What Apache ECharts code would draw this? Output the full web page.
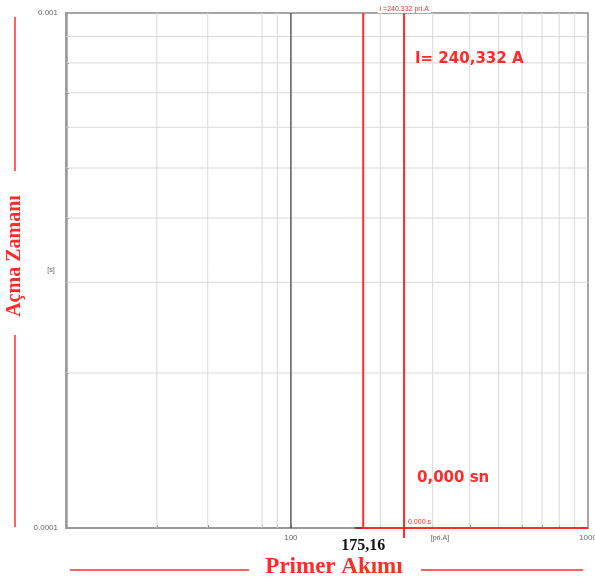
<!DOCTYPE html>
<html>
<head>
<meta charset="utf-8">
<script src="https://cdn.jsdelivr.net/npm/echarts@6/dist/echarts.min.js"></script>
<style>
html,body{margin:0;padding:0;background:#fff;}
#c{width:595px;height:579px;}
</style>
</head>
<body>
<div id="c"></div>
<script>
// ---- data ----
const xMin = 17.5, xMax = 1000;
const yMin = 0.0001, yMax = 0.001;
const xGridValues = [35.4, 52.5, 80, 90, 200, 300, 400, 500, 600, 700, 800, 900];
const xMajorLine = [100];
const yGridValues = [0.0002, 0.0003, 0.0004, 0.0005, 0.0006, 0.0007, 0.0008, 0.0009];
const xTickLabels = [100, 1000];
const yTickLabels = [0.0001, 0.001];
const pickupCurrent = 175.16;
const faultCurrent = 240.332;
const faultTime = 0.000;
const relayCurveX = [175.16, 175.16, 1000];
const relayCurveY = [0.001, 0.0001, 0.0001];
const stubX = [164, 175.16];
const stubY = [0.0001, 0.0001];
const faultLineX = [240.332, 240.332, 240.332];
const faultLineY = [0.001, 0.0001, 0.0000956];

const RED = '#ff2b2b';
const chart = echarts.init(document.getElementById('c'), null, {renderer: 'canvas'});

const zip = (xs, ys) => xs.map((x, i) => [x, ys[i]]);

const gridSeries = [];
xGridValues.forEach(v => gridSeries.push({type: 'line', silent: true, z: 1, symbol: 'none',
  data: [[v, yMin], [v, yMax]], lineStyle: {color: '#dadada', width: 1}}));
yGridValues.forEach(v => gridSeries.push({type: 'line', silent: true, z: 1, symbol: 'none',
  data: [[xMin, v], [xMax, v]], lineStyle: {color: '#dadada', width: 1}}));
xMajorLine.forEach(v => gridSeries.push({type: 'line', silent: true, z: 2, symbol: 'none',
  data: [[v, yMin], [v, yMax]], lineStyle: {color: '#5a5a5a', width: 1.5}}));

const faultData = zip(faultLineX, faultLineY).map((p, i) => {
  const d = {value: p};
  if (i === 0) d.label = {show: true, position: 'top', distance: 0, formatter: 'I =' + faultCurrent.toFixed(3) + ' pri.A', fontSize: 7, color: RED, backgroundColor: '#fff', padding: [1, 2, 0, 2], fontFamily: 'Liberation Sans'};
  if (i === 1) d.label = {show: true, position: 'right', distance: 4, offset: [0, -6], formatter: faultTime.toFixed(3) + ' s', fontSize: 7, color: RED, fontFamily: 'Liberation Sans'};
  return d;
});

chart.setOption({
  animation: false,
  backgroundColor: '#fff',
  grid: {left: 66, top: 13, right: 7, bottom: 51, show: true, borderColor: '#8a8a8a', borderWidth: 1.5, outerBoundsMode: 'none', containLabel: false},
  xAxis: {
    type: 'log', min: xMin, max: xMax, logBase: 10,
    axisLine: {show: true, lineStyle: {color: '#9a9a9a', width: 2}},
    axisTick: {show: true, inside: true, length: 3, customValues: xGridValues.concat(xMajorLine), lineStyle: {color: '#777'}},
    splitLine: {show: false},
    minorSplitLine: {show: false},
    axisLabel: {customValues: xTickLabels, fontSize: 8, color: '#666', margin: 6, fontFamily: 'Liberation Sans', formatter: v => String(v)}
  },
  yAxis: {
    type: 'log', min: yMin, max: yMax, logBase: 10,
    axisLine: {show: true, lineStyle: {color: '#9a9a9a', width: 2.5}},
    axisTick: {show: true, inside: true, length: 3, customValues: yGridValues, lineStyle: {color: '#777'}},
    splitLine: {show: false},
    axisLabel: {customValues: yTickLabels, fontSize: 8, color: '#666', margin: 8, fontFamily: 'Liberation Sans', formatter: v => String(v)}
  },
  series: gridSeries.concat([
    {type: 'line', data: zip(stubX, stubY), z: 3, symbol: 'none', lineStyle: {color: '#9b2f2f', width: 2}},
    {type: 'line', data: zip(relayCurveX, relayCurveY), z: 4, symbol: 'none', lineStyle: {color: RED, width: 2}},
    {type: 'line', data: faultData, z: 5, clip: false, symbol: 'circle', symbolSize: 0, showSymbol: true,
     itemStyle: {color: RED}, lineStyle: {color: RED, width: 2}}
  ])
});

const pPick = chart.convertToPixel({gridIndex: 0}, [pickupCurrent, yMin]);
chart.setOption({
  graphic: [
    {type: 'text', z: 50, left: 415, top: 52, style: {text: 'I= ' + faultCurrent.toFixed(3).replace('.', ',') + ' A', font: 'bold 15px "DejaVu Sans"', fill: RED}},
    {type: 'text', z: 50, left: 417, top: 471, style: {text: faultTime.toFixed(3).replace('.', ',') + ' sn', font: 'bold 15px "DejaVu Sans"', fill: RED}},
    {type: 'text', z: 50, x: pPick[0], y: 546, style: {text: pickupCurrent.toFixed(2).replace('.', ','), font: 'bold 16px "Liberation Serif"', fill: '#111', align: 'center', verticalAlign: 'middle'}},
    {type: 'text', z: 50, x: 440, y: 538, style: {text: '[pri.A]', font: '7px "Liberation Sans"', fill: '#666', align: 'center', verticalAlign: 'middle'}},
    {type: 'text', z: 50, x: 51, y: 270, style: {text: '[s]', font: '7px "Liberation Sans"', fill: '#666', align: 'center', verticalAlign: 'middle'}},
    {type: 'text', z: 50, x: 334, y: 567, style: {text: 'Primer Akımı', font: 'bold 23px "Liberation Serif"', fill: RED, align: 'center', verticalAlign: 'middle'}},
    {type: 'line', z: 50, shape: {x1: 70, y1: 570, x2: 249, y2: 570}, style: {stroke: RED, lineWidth: 1.5}},
    {type: 'line', z: 50, shape: {x1: 421, y1: 570, x2: 583, y2: 570}, style: {stroke: RED, lineWidth: 1.5}},
    {type: 'text', z: 50, x: 15, y: 256, rotation: Math.PI / 2, style: {text: 'Açma Zamanı', font: 'bold 20px "Liberation Serif"', fill: RED, align: 'center', verticalAlign: 'middle'}},
    {type: 'line', z: 50, shape: {x1: 15, y1: 17, x2: 15, y2: 171}, style: {stroke: RED, lineWidth: 1.5}},
    {type: 'line', z: 50, shape: {x1: 15, y1: 335, x2: 15, y2: 527}, style: {stroke: RED, lineWidth: 1.5}}
  ]
});
</script>
</body>
</html>
